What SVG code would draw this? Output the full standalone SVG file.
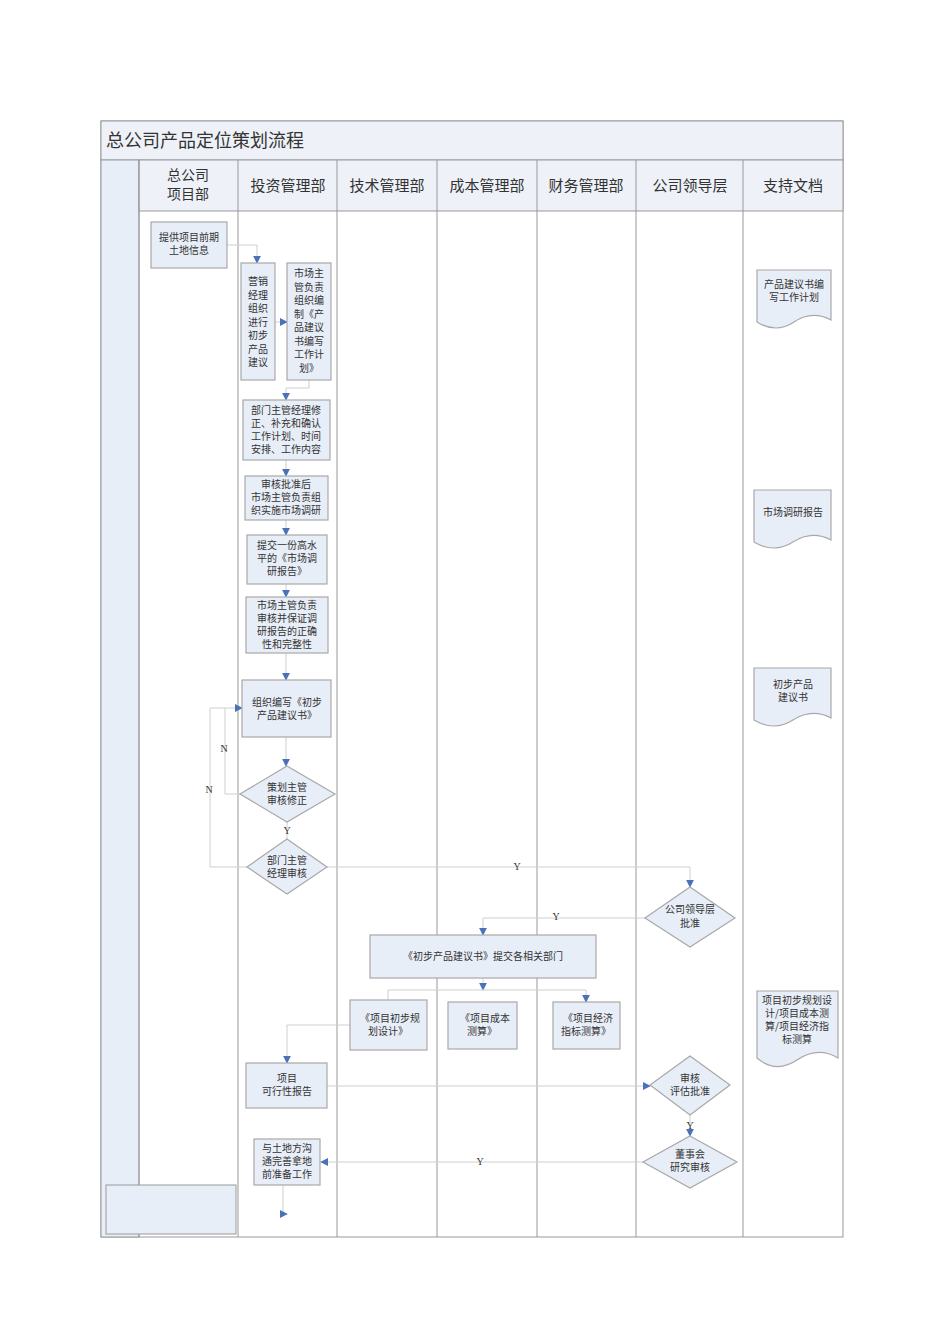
<svg xmlns="http://www.w3.org/2000/svg" width="950" height="1344" viewBox="0 0 950 1344">
<style>
text{font-family:"Noto Sans CJK SC","Liberation Serif",serif;fill:#333;text-anchor:middle}
.n{fill:#e8eef8;stroke:#a8a8a8;stroke-width:1.2}
.t{font-size:10px}
.h{font-size:15px}
.c path{fill:none;stroke:#cfcfcf;stroke-width:1}
.a{marker-end:url(#ar)}
.lb{font-family:"Liberation Serif",serif;font-size:10px}
.ln{stroke:#999;stroke-width:1}
</style>
<defs><marker id="ar" viewBox="0 0 10 10" refX="9" refY="5" markerWidth="8" markerHeight="8" orient="auto" markerUnits="userSpaceOnUse"><path d="M0,0L10,5L0,10z" fill="#4a72b8"/></marker></defs>
<rect width="950" height="1344" fill="#fff"/>
<g id="frame">
<rect x="101" y="121" width="742" height="1116" fill="#fff" stroke="#999"/>
<rect x="101" y="121" width="742" height="39" fill="#eef2f8" stroke="#999"/>
<text x="106" y="147" style="font-size:18px;text-anchor:start">总公司产品定位策划流程</text>
<rect x="101" y="160" width="38" height="1077" fill="#e8eef8" stroke="#999"/>
<rect x="139" y="160" width="704" height="51" fill="#eef2f8" stroke="#999"/>
<line class="ln" x1="238" y1="160" x2="238" y2="1237"/><line class="ln" x1="337" y1="160" x2="337" y2="1237"/>
<line class="ln" x1="437" y1="160" x2="437" y2="1237"/><line class="ln" x1="537" y1="160" x2="537" y2="1237"/>
<line class="ln" x1="636" y1="160" x2="636" y2="1237"/><line class="ln" x1="743" y1="160" x2="743" y2="1237"/>
<line class="ln" x1="139" y1="160" x2="139" y2="1237"/>
<text x="188" y="180" style="font-size:14px">总公司</text><text x="188" y="199" style="font-size:14px">项目部</text>
<text class="h" x="288" y="191">投资管理部</text><text class="h" x="387" y="191">技术管理部</text>
<text class="h" x="487" y="191">成本管理部</text><text class="h" x="586" y="191">财务管理部</text>
<text class="h" x="690" y="191">公司领导层</text><text class="h" x="793" y="191">支持文档</text>
<rect x="106" y="1185" width="130" height="49" fill="#e8eef8" stroke="#999"/>
</g>
<g class="c">
<path class="a" d="M227,245H257V263"/>
<path class="a" d="M275,322H287"/>
<path class="a" d="M309,380V388H286V400"/>
<path class="a" d="M286,460V476"/><path class="a" d="M286,520V535"/>
<path class="a" d="M286,584V597"/><path class="a" d="M286,653V680"/>
<path class="a" d="M286,737V766"/>
<path class="a" d="M240,794H225V708H242"/>
<path d="M247,867H210V708H225"/>
<path d="M287,822V839"/>
<path class="a" d="M327,867H690V887"/>
<path class="a" d="M645,918H483V935"/>
<path class="a" d="M483,978V990"/>
<path d="M388,990H586"/><path d="M388,990V1000"/>
<path class="a" d="M586,990V1002"/>
<path class="a" d="M350,1025H287V1063"/>
<path class="a" d="M327,1086H650"/>
<path class="a" d="M690,1115V1136"/>
<path class="a" d="M643,1162H321"/>
<path class="a" d="M283,1185V1214H287"/>
<text class="lb" x="224" y="752">N</text><text class="lb" x="209" y="793">N</text>
<text class="lb" x="287" y="834">Y</text><text class="lb" x="517" y="870">Y</text>
<text class="lb" x="556" y="920">Y</text><text class="lb" x="690" y="1129">Y</text>
<text class="lb" x="480" y="1165">Y</text>
</g>
<g id="n1"><rect class="n" x="151" y="222" width="76" height="46"/><text class="t" x="189" y="241">提供项目前期</text><text class="t" x="189" y="254">土地信息</text></g>
<g id="n2"><rect class="n" x="241" y="263" width="34" height="117"/>
<text class="t" x="258" y="285">营销</text><text class="t" x="258" y="298.5">经理</text><text class="t" x="258" y="312">组织</text><text class="t" x="258" y="325.5">进行</text><text class="t" x="258" y="339">初步</text><text class="t" x="258" y="352.5">产品</text><text class="t" x="258" y="366">建议</text></g>
<g id="n3"><rect class="n" x="287" y="263" width="44" height="117"/>
<text class="t" x="309" y="277">市场主</text><text class="t" x="309" y="290.5">管负责</text><text class="t" x="309" y="304">组织编</text><text class="t" x="309" y="317.5">制《产</text><text class="t" x="309" y="331">品建议</text><text class="t" x="309" y="344.5">书编写</text><text class="t" x="309" y="358">工作计</text><text class="t" x="309" y="371.5">划》</text></g>
<g id="n4"><rect class="n" x="243" y="400" width="87" height="60"/>
<text class="t" x="286" y="414">部门主管经理修</text><text class="t" x="286" y="427">正、补充和确认</text><text class="t" x="286" y="440">工作计划、时间</text><text class="t" x="286" y="453">安排、工作内容</text></g>
<g id="n5"><rect class="n" x="245" y="476" width="83" height="44"/>
<text class="t" x="286" y="488">审核批准后</text><text class="t" x="286" y="501">市场主管负责组</text><text class="t" x="286" y="514">织实施市场调研</text></g>
<g id="n6"><rect class="n" x="247" y="535" width="80" height="49"/>
<text class="t" x="287" y="549">提交一份高水</text><text class="t" x="287" y="562">平的《市场调</text><text class="t" x="287" y="575">研报告》</text></g>
<g id="n7"><rect class="n" x="246" y="597" width="82" height="56"/>
<text class="t" x="287" y="609">市场主管负责</text><text class="t" x="287" y="622">审核并保证调</text><text class="t" x="287" y="635">研报告的正确</text><text class="t" x="287" y="648">性和完整性</text></g>
<g id="n8"><rect class="n" x="242" y="680" width="89" height="57"/>
<text class="t" x="287" y="706">组织编写《初步</text><text class="t" x="287" y="719">产品建议书》</text></g>
<g id="n9"><path class="n" d="M287,766L335,794L287,822L240,794Z"/><text class="t" x="287" y="791">策划主管</text><text class="t" x="287" y="804">审核修正</text></g>
<g id="n10"><path class="n" d="M287,839L327,867L287,894L247,867Z"/><text class="t" x="287" y="864">部门主管</text><text class="t" x="287" y="877">经理审核</text></g>
<g id="n11"><path class="n" d="M690,887L735,918L690,947L645,918Z"/><text class="t" x="690" y="913">公司领导层</text><text class="t" x="690" y="927">批准</text></g>
<g id="n12"><rect class="n" x="370" y="935" width="226" height="43"/><text class="t" x="483" y="960">《初步产品建议书》提交各相关部门</text></g>
<g id="n13"><rect class="n" x="350" y="1000" width="77" height="50"/><text class="t" x="390" y="1022">《项目初步规</text><text class="t" x="388" y="1035">划设计》</text></g>
<g id="n14"><rect class="n" x="448" y="1002" width="69" height="47"/><text class="t" x="485" y="1022">《项目成本</text><text class="t" x="482" y="1035">测算》</text></g>
<g id="n15"><rect class="n" x="553" y="1002" width="67" height="47"/><text class="t" x="588" y="1022">《项目经济</text><text class="t" x="586" y="1035">指标测算》</text></g>
<g id="n16"><rect class="n" x="246" y="1063" width="81" height="45"/><text class="t" x="287" y="1082">项目</text><text class="t" x="287" y="1095">可行性报告</text></g>
<g id="n17"><path class="n" d="M690,1056L730,1085L690,1115L650,1085Z"/><text class="t" x="690" y="1082">审核</text><text class="t" x="690" y="1095">评估批准</text></g>
<g id="n18"><path class="n" d="M690,1136L737,1162L690,1188L643,1162Z"/><text class="t" x="690" y="1158">董事会</text><text class="t" x="690" y="1171">研究审核</text></g>
<g id="n19"><rect class="n" x="254" y="1139" width="66" height="46"/>
<text class="t" x="287" y="1152">与土地方沟</text><text class="t" x="287" y="1165">通完善拿地</text><text class="t" x="287" y="1178">前准备工作</text></g>
<g id="d1"><path class="n" d="M757,270H831V320Q812,310 794,322T757,322Z"/><text class="t" x="794" y="288">产品建议书编</text><text class="t" x="794" y="301">写工作计划</text></g>
<g id="d2"><path class="n" d="M754,490H831V540Q812,530 793,542T754,542Z"/><text class="t" x="793" y="516">市场调研报告</text></g>
<g id="d3"><path class="n" d="M754,668H831V718Q812,708 793,720T754,720Z"/><text class="t" x="793" y="688">初步产品</text><text class="t" x="793" y="701">建议书</text></g>
<g id="d4"><path class="n" d="M757,991H838V1058Q818,1046 797,1060T757,1058Z"/><text class="t" x="797" y="1004">项目初步规划设</text><text class="t" x="797" y="1017">计/项目成本测</text><text class="t" x="797" y="1030">算/项目经济指</text><text class="t" x="797" y="1043">标测算</text></g>
</svg>
